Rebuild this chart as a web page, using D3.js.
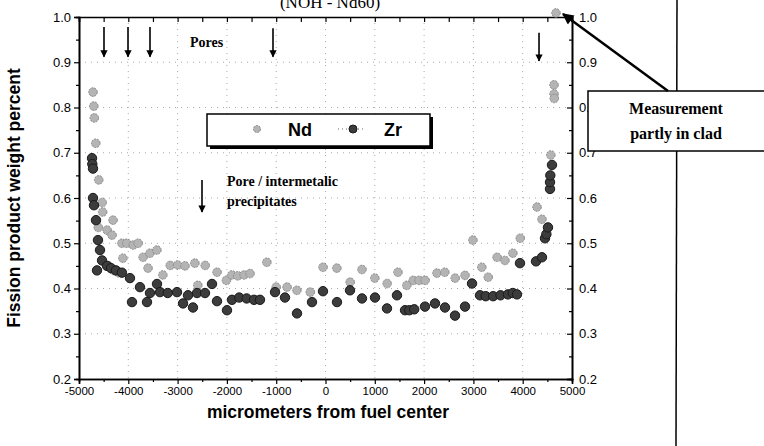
<!DOCTYPE html>
<html>
<head>
<meta charset="utf-8">
<script src="https://cdn.jsdelivr.net/npm/d3@7"></script>
<style>
  body { margin: 0; background: #fff; }
  svg { display: block; }
</style>
</head>
<body>
<div id="chart"></div>
<script>
// Nd and Zr profiles: [micrometers, weight percent]
const ndData = [
  [-4716, 0.834], [-4700, 0.803], [-4690, 0.777], [-4660, 0.721], [-4600, 0.64],
  [-4530, 0.59], [-4520, 0.569], [-4310, 0.551], [-4610, 0.535], [-4430, 0.529],
  [-4330, 0.518], [-4130, 0.50], [-4030, 0.50], [-3900, 0.496], [-3800, 0.50],
  [-4400, 0.45], [-4300, 0.44], [-4200, 0.435], [-4110, 0.467], [-3700, 0.469],
  [-3560, 0.478], [-3420, 0.485], [-3600, 0.445], [-3300, 0.43], [-3150, 0.451],
  [-3000, 0.452], [-2850, 0.45], [-2650, 0.456], [-2440, 0.451], [-2200, 0.436],
  [-2590, 0.407], [-2010, 0.418], [-1900, 0.43], [-1780, 0.428], [-1650, 0.43],
  [-1530, 0.433], [-1190, 0.458], [-1000, 0.403], [-780, 0.403], [-580, 0.396],
  [-310, 0.392], [-50, 0.447], [230, 0.445], [500, 0.414], [740, 0.442],
  [1000, 0.423], [1250, 0.411], [1470, 0.436], [1650, 0.407], [1780, 0.418],
  [1900, 0.418], [2020, 0.418], [2260, 0.434], [2420, 0.436], [2630, 0.423],
  [2830, 0.429], [2990, 0.507], [3170, 0.447], [3300, 0.425], [3480, 0.469],
  [3640, 0.462], [3800, 0.478], [3950, 0.511], [4290, 0.58], [4390, 0.553],
  [4570, 0.695], [4635, 0.85], [4635, 0.83], [4640, 0.82], [4675, 1.009]
];
const zrData = [
  [-4736, 0.688], [-4730, 0.675], [-4716, 0.665], [-4716, 0.60], [-4696, 0.584],
  [-4655, 0.551], [-4615, 0.507], [-4574, 0.485], [-4533, 0.462], [-4635, 0.44],
  [-4432, 0.45], [-4350, 0.445], [-4250, 0.44], [-4130, 0.435], [-3966, 0.423],
  [-3763, 0.403], [-3925, 0.37], [-3621, 0.37], [-3560, 0.39], [-3418, 0.41],
  [-3357, 0.392], [-3200, 0.39], [-3012, 0.392], [-2890, 0.367], [-2688, 0.358],
  [-2789, 0.385], [-2606, 0.39], [-2444, 0.39], [-2302, 0.41], [-2201, 0.372],
  [-1998, 0.352], [-1897, 0.375], [-1750, 0.38], [-1600, 0.378], [-1450, 0.375],
  [-1329, 0.375], [-1024, 0.392], [-822, 0.38], [-578, 0.345], [-274, 0.37],
  [-51, 0.394], [233, 0.37], [497, 0.396], [740, 0.378], [1004, 0.38],
  [1247, 0.356], [1450, 0.385], [1613, 0.352], [1700, 0.352], [1800, 0.354],
  [2018, 0.36], [2221, 0.367], [2424, 0.358], [2627, 0.34], [2830, 0.36],
  [2972, 0.411], [3134, 0.385], [3250, 0.383], [3400, 0.383], [3550, 0.385],
  [3700, 0.387], [3800, 0.39], [3884, 0.387], [3945, 0.456], [4270, 0.46],
  [4391, 0.469], [4452, 0.511], [4480, 0.52], [4513, 0.535], [4554, 0.62],
  [4554, 0.635], [4560, 0.65], [4594, 0.673]
];

const xTicks = [-5000, -4000, -3000, -2000, -1000, 0, 1000, 2000, 3000, 4000, 5000];
const yTicks = [0.2, 0.3, 0.4, 0.5, 0.6, 0.7, 0.8, 0.9, 1.0];

// annotation arrows (x position, top, bottom) in data units
const poreArrows = [[-4493, 0.978, 0.912], [-4006, 0.978, 0.912], [-3560, 0.978, 0.912], [-1065, 0.975, 0.912], [4331, 0.965, 0.903]];
const precipArrow = [[-2505, 0.64, 0.569]];

const width = 764, height = 446;

const svg = d3.select("#chart").append("svg")
  .attr("width", width)
  .attr("height", height);

const x = d3.scaleLinear().domain([-5000, 5000]).range([79, 572]);
const y = d3.scaleLinear().domain([0.2, 1.0]).range([379, 17]);

// page line on the right
svg.append("line")
  .attr("x1", 677).attr("x2", 676).attr("y1", 0).attr("y2", height)
  .attr("stroke", "#000").attr("stroke-width", 1.5);

// title fragment, cut off by the top of the scan
svg.append("text")
  .attr("x", 330).attr("y", 8)
  .attr("text-anchor", "middle")
  .attr("font-family", "Liberation Serif, serif")
  .attr("font-size", 17)
  .text("(NOH - Nd60)");

// dotted grid
const grid = svg.append("g").attr("stroke", "#aaa").attr("stroke-dasharray", "1,5").attr("stroke-width", 1);
grid.selectAll(".gx").data(xTicks.slice(1, -1)).enter().append("line")
  .attr("x1", d => x(d)).attr("x2", d => x(d)).attr("y1", y(1.0)).attr("y2", y(0.2));
grid.selectAll(".gy").data(yTicks.slice(1, -1)).enter().append("line")
  .attr("x1", x(-5000)).attr("x2", x(5000)).attr("y1", d => y(d)).attr("y2", d => y(d));

const fmtX = d => String(d);

// axes
const axBottom = svg.append("g").attr("transform", `translate(0,${y(0.2)})`)
  .call(d3.axisBottom(x).tickValues(xTicks).tickSize(5).tickPadding(3).tickFormat(fmtX));
const axBottomMinor = svg.append("g").attr("transform", `translate(0,${y(0.2)})`)
  .call(d3.axisBottom(x).tickValues(d3.range(-4500, 5000, 1000)).tickSize(3).tickFormat(""));
const axTop = svg.append("g").attr("transform", `translate(0,${y(1.0)})`)
  .call(d3.axisTop(x).tickValues(d3.range(-5000, 5001, 500)).tickSize(-5).tickFormat(""));
const axLeft = svg.append("g").attr("transform", `translate(${x(-5000)},0)`)
  .call(d3.axisLeft(y).tickValues(yTicks).tickSize(5).tickPadding(3).tickFormat(d3.format(".1f")));
const axLeftMinor = svg.append("g").attr("transform", `translate(${x(-5000)},0)`)
  .call(d3.axisLeft(y).tickValues(d3.range(0.25, 1.0, 0.1)).tickSize(3).tickFormat(""));
const axRight = svg.append("g").attr("transform", `translate(${x(5000)},0)`)
  .call(d3.axisRight(y).tickValues(yTicks).tickSize(-5).tickPadding(7).tickFormat(d3.format(".1f")));
const axRightMinor = svg.append("g").attr("transform", `translate(${x(5000)},0)`)
  .call(d3.axisRight(y).tickValues(d3.range(0.25, 1.0, 0.1)).tickSize(-3).tickFormat(""));

[axBottom, axBottomMinor, axTop, axLeft, axLeftMinor, axRight, axRightMinor].forEach(g => {
  g.select(".domain").attr("stroke-width", 1.6);
  g.selectAll(".tick line").attr("stroke-width", 1.2);
  g.selectAll("text").attr("font-family", "Liberation Sans, Arial, sans-serif").attr("fill", "#000");
});
axBottom.selectAll("text").attr("font-size", 11.5);
axLeft.selectAll("text").attr("font-size", 13);
axRight.selectAll("text").attr("font-size", 13);

// axis titles
svg.append("text")
  .attr("x", 328).attr("y", 418)
  .attr("text-anchor", "middle")
  .attr("font-family", "Liberation Sans, Arial, sans-serif")
  .attr("font-weight", "bold").attr("font-size", 17.5)
  .text("micrometers from fuel center");
svg.append("text")
  .attr("transform", "translate(20,198) rotate(-90)")
  .attr("text-anchor", "middle")
  .attr("font-family", "Liberation Sans, Arial, sans-serif")
  .attr("font-weight", "bold").attr("font-size", 17.5)
  .text("Fission product weight percent");

// data points
svg.append("g").selectAll("circle").data(ndData).enter().append("circle")
  .attr("cx", d => x(d[0])).attr("cy", d => y(d[1])).attr("r", 4.3)
  .attr("fill", "#b4b4b4").attr("stroke", "#8a8a8a").attr("stroke-width", 1)
  .attr("stroke-dasharray", "2,1");
svg.append("g").selectAll("circle").data(zrData).enter().append("circle")
  .attr("cx", d => x(d[0])).attr("cy", d => y(d[1])).attr("r", 4.7)
  .attr("fill", "#3c3c3c").attr("stroke", "#1a1a1a").attr("stroke-width", 1);

// arrow heads
const defs = svg.append("defs");
defs.append("marker").attr("id", "head")
  .attr("viewBox", "0 0 10 10").attr("refX", 9).attr("refY", 5)
  .attr("markerWidth", 5).attr("markerHeight", 4.5).attr("orient", "auto")
  .append("path").attr("d", "M0,0 L10,5 L0,10 Z").attr("fill", "#000");

svg.append("g").selectAll("line").data(poreArrows.concat(precipArrow)).enter().append("line")
  .attr("x1", d => x(d[0])).attr("x2", d => x(d[0]))
  .attr("y1", d => y(d[1])).attr("y2", d => y(d[2]))
  .attr("stroke", "#000").attr("stroke-width", 1.6)
  .attr("marker-end", "url(#head)");

const serif = "Liberation Serif, Times New Roman, serif";
svg.append("text").attr("x", 190).attr("y", 47)
  .attr("font-family", serif).attr("font-weight", "bold").attr("font-size", 14)
  .text("Pores");
svg.append("text").attr("x", 227).attr("y", 186)
  .attr("font-family", serif).attr("font-weight", "bold").attr("font-size", 14)
  .text("Pore / intermetalic");
svg.append("text").attr("x", 227).attr("y", 206)
  .attr("font-family", serif).attr("font-weight", "bold").attr("font-size", 14)
  .text("precipitates");

// legend
const lg = svg.append("g");
lg.append("rect").attr("x", 210).attr("y", 117).attr("width", 223).attr("height", 32).attr("fill", "#000");
lg.append("rect").attr("x", 207).attr("y", 114).attr("width", 223).attr("height", 32)
  .attr("fill", "#fff").attr("stroke", "#000").attr("stroke-width", 1.5);
lg.append("circle").attr("cx", 257).attr("cy", 129).attr("r", 3.5)
  .attr("fill", "#b4b4b4").attr("stroke", "#8a8a8a").attr("stroke-dasharray", "2,1");
lg.append("text").attr("x", 288).attr("y", 136)
  .attr("font-family", "Liberation Sans, Arial, sans-serif").attr("font-weight", "bold").attr("font-size", 18)
  .text("Nd");
lg.append("line").attr("x1", 338).attr("x2", 366).attr("y1", 129).attr("y2", 129)
  .attr("stroke", "#666").attr("stroke-dasharray", "1,3");
lg.append("circle").attr("cx", 353).attr("cy", 129).attr("r", 4)
  .attr("fill", "#3c3c3c").attr("stroke", "#1a1a1a");
lg.append("text").attr("x", 384).attr("y", 136)
  .attr("font-family", "Liberation Sans, Arial, sans-serif").attr("font-weight", "bold").attr("font-size", 18)
  .text("Zr");

// callout box
svg.append("rect").attr("x", 588).attr("y", 91).attr("width", 190).attr("height", 60)
  .attr("fill", "#fff").attr("stroke", "#000").attr("stroke-width", 1.5);
svg.append("text").attr("x", 676).attr("y", 114).attr("text-anchor", "middle")
  .attr("font-family", serif).attr("font-weight", "bold").attr("font-size", 16)
  .text("Measurement");
svg.append("text").attr("x", 676).attr("y", 139).attr("text-anchor", "middle")
  .attr("font-family", serif).attr("font-weight", "bold").attr("font-size", 16)
  .text("partly in clad");
const target = ndData[ndData.length - 1];
svg.append("line")
  .attr("x1", 668).attr("y1", 91)
  .attr("x2", x(target[0]) + 7).attr("y2", y(target[1]) + 1)
  .attr("stroke", "#000").attr("stroke-width", 2.5)
  .attr("marker-end", "url(#head)");
</script>
</body>
</html>
